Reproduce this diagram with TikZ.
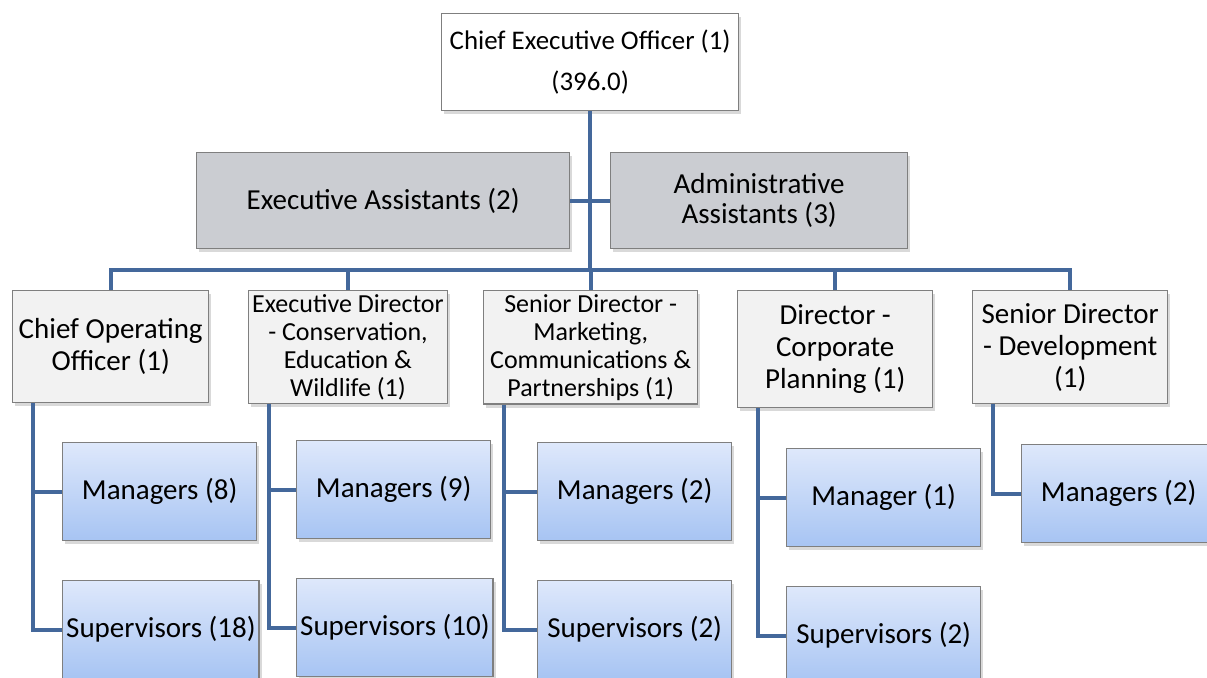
\documentclass[tikz,border=0pt]{standalone}
\usepackage{fontspec}
\setmainfont{Carlito}
\usepackage{tikz}
\usetikzlibrary{shadows}
\definecolor{linkblue}{HTML}{44689B}
\definecolor{boxgrey}{HTML}{CBCDD2}
\definecolor{headgrey}{HTML}{F2F2F2}
\definecolor{framegrey}{HTML}{7F7F7F}
\definecolor{bluetop}{HTML}{DEE8FB}
\definecolor{bluebot}{HTML}{A7C4F3}

\begin{document}
\begin{tikzpicture}[x=0.02cm, y=-0.02cm]
        \tikzstyle{box} = [draw=framegrey, line width=0.8pt, anchor=north west, align=center, inner sep=2pt,
                font=\fontsize{16.5}{18.2}\selectfont,
                drop shadow={shadow xshift=1.5pt, shadow yshift=-2pt, opacity=0.3}]
        \tikzstyle{ceonode} = [box, fill=white, minimum width=5.94cm, minimum height=1.94cm]
        \tikzstyle{asnode} = [box, fill=boxgrey, minimum height=1.92cm]
        \tikzstyle{dnode} = [box, fill=headgrey]
        \tikzstyle{snode} = [box, top color=bluetop, bottom color=bluebot, minimum width=3.88cm, minimum height=1.96cm]
        \tikzstyle{link} = [draw=linkblue, line width=2.3pt]

        \clip (0,0) rectangle (1207,677);

        % top of the chart
        \node[ceonode, font=\fontsize{15.3}{23}\selectfont] (ceo) at (441,13) {Chief Executive Officer (1)\\(396.0)};
        \node[asnode, minimum width=7.46cm] (ea) at (196,152) {Executive Assistants (2)};
        \node[asnode, minimum width=5.94cm, font=\fontsize{16.5}{17}\selectfont] (aa) at (610,152) {Administrative\\Assistants (3)};

        % directors
        \node[dnode, minimum width=3.92cm, minimum height=2.24cm] (coo) at (12,290) {Chief Operating\\Officer (1)};
        \node[dnode, minimum width=3.88cm, minimum height=2.2cm, font=\fontsize{14.8}{16}\selectfont] (ced) at (248,290)
                {Executive Director\\- Conservation,\\Education \&\\Wildlife (1)};
        \node[dnode, minimum width=4.28cm, minimum height=2.24cm, font=\fontsize{14.8}{16}\selectfont] (mcp) at (483,290)
                {Senior Director -\\Marketing,\\Communications \&\\Partnerships (1)};
        \node[dnode, minimum width=3.9cm, minimum height=2.34cm] (cpl) at (737,290) {Director -\\Corporate\\Planning (1)};
        \node[dnode, minimum width=3.9cm, minimum height=2.26cm] (dev) at (972,290) {Senior Director\\- Development\\(1)};

        % staff under each director
        \node[snode] (coom) at (62,442) {Managers (8)};
        \node[snode] (coos) at (62,580) {Supervisors (18)};
        \node[snode] (cedm) at (296,440) {Managers (9)};
        \node[snode] (ceds) at (296,578) {Supervisors (10)};
        \node[snode] (mcpm) at (537,442) {Managers (2)};
        \node[snode] (mcps) at (537,580) {Supervisors (2)};
        \node[snode] (cplm) at (786,448) {Manager (1)};
        \node[snode] (cpls) at (786,586) {Supervisors (2)};
        \node[snode] (devm) at (1021,444) {Managers (2)};

        % connectors
        \coordinate (bus) at (0,270);
        \draw[link] (ceo.south) -- (ceo.south |- bus);
        \draw[link] (ea.east) -- (aa.west);
        \draw[link] (coo.north) |- (bus -| dev.north) -- (dev.north);
        \foreach \d in {ced,mcp,cpl}
                \draw[link] (\d.north) -- (\d.north |- bus);

        \foreach \d/\s in {coo/coom,coo/coos,ced/cedm,ced/ceds,mcp/mcpm,mcp/mcps,cpl/cplm,cpl/cpls,dev/devm}
                \draw[link] ([xshift=0.42cm]\d.south west) |- (\s.west);
\end{tikzpicture}
\end{document}
